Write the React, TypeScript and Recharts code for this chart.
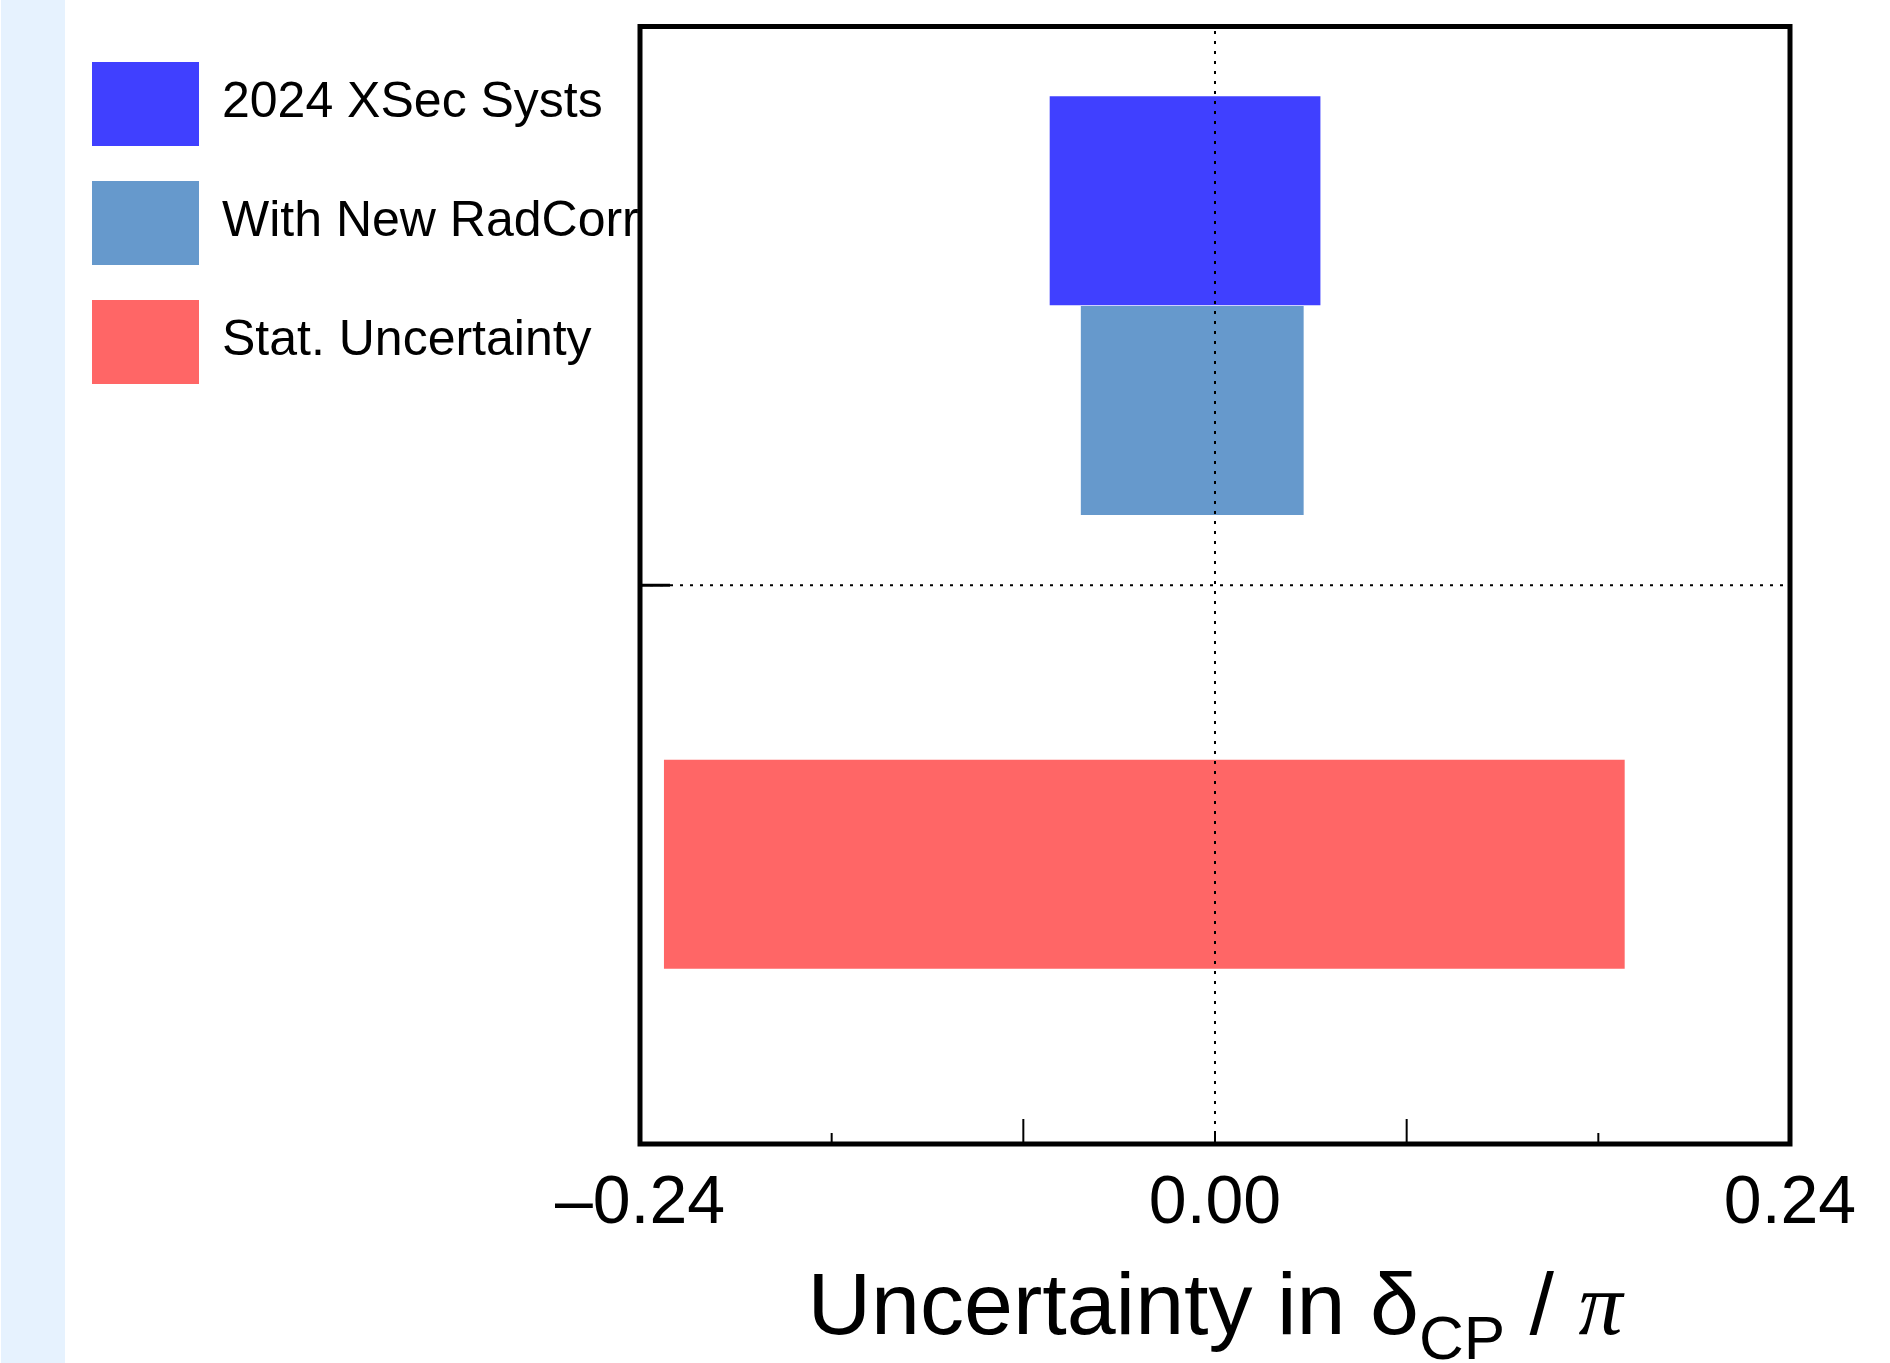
import React from 'react';
import {
  BarChart,
  Bar,
  Cell,
  XAxis,
  YAxis,
  ReferenceLine,
  ReferenceArea,
} from 'recharts';

// series / rows (top to bottom)
const categories = ['2024 XSec Systs', 'With New RadCorr', 'Stat. Uncertainty'];
const lowEdges = [-0.069, -0.056, -0.23];
const highEdges = [0.044, 0.037, 0.171];
const rowPositions = [0.6875, 0.3125, -0.5];
const colors = ['#4040ff', '#6699cc', '#ff6666'];

// axes
const xDomain = [-0.24, 0.24];
const xTicks = [-0.24, -0.16, -0.08, 0, 0.08, 0.16, 0.24];
const xTickLabels = [-0.24, 0, 0.24];
const xLongTicks = [-0.08, 0.08];
const yDomain = [-1, 1];
const yTickMarks = [0];
const barThickness = 0.375;

const W = 1890;
const H = 1363;
const Y_AXIS_W = 2;
const MARGIN = { top: 26.5, right: 100, bottom: 0, left: 640 - Y_AXIS_W };
const X_AXIS_H = 219;
const PLOT_H = H - MARGIN.top - MARGIN.bottom - X_AXIS_H;
const FONT = '"Liberation Sans", Arial, Helvetica, sans-serif';

const data = categories.map((name, i) => ({
  name,
  pos: rowPositions[i],
  range: [lowEdges[i], highEdges[i]],
}));

const fmt = (v: number) => (v < 0 ? '\u2013' : '') + Math.abs(v).toFixed(2);

function XTick(props: any) {
  const { x, y, payload } = props;
  const v = payload.value;
  const isEdge = v === xDomain[0] || v === xDomain[1];
  const len = xLongTicks.includes(v) ? 25 : 11;
  return (
    <g>
      {!isEdge && <line x1={x} x2={x} y1={y} y2={y - len} stroke="#000" strokeWidth={2} />}
      {xTickLabels.includes(v) && (
        <text x={x} y={y + 79} textAnchor="middle" fontFamily={FONT} fontSize={68} fill="#000">
          {fmt(v)}
        </text>
      )}
    </g>
  );
}

// short inward tick on the left frame edge
function YTick(props: any) {
  const { y, payload } = props;
  if (!yTickMarks.includes(Number(payload.value))) return <g />;
  const x0 = MARGIN.left + Y_AXIS_W;
  return <line x1={x0} x2={x0 + 30} y1={y} y2={y} stroke="#000" strokeWidth={3} />;
}

function AxisTitle(props: any) {
  const { viewBox } = props;
  const cx = viewBox.x + viewBox.width / 2;
  const by = viewBox.y + 190;
  return (
    <text x={cx} y={by} textAnchor="middle" fontFamily={FONT} fontSize={88} fill="#000">
      <tspan>Uncertainty in δ</tspan>
      <tspan fontSize={62} dy={25}>CP</tspan>
      <tspan dy={-25}> / </tspan>
      <tspan fontFamily='"Liberation Serif", "Times New Roman", serif' fontStyle="italic">π</tspan>
    </text>
  );
}

function LegendBox() {
  return (
    <svg width={640} height={420} style={{ position: 'absolute', left: 0, top: 0 }}>
      {categories.map((name, i) => {
        const top = 62 + i * 119;
        return (
          <g key={name}>
            <rect x={92} y={top} width={107} height={84} fill={colors[i]} />
            <text x={222} y={top + 55} fontFamily={FONT} fontSize={50} fill="#000">
              {name}
            </text>
          </g>
        );
      })}
    </svg>
  );
}

export default function App() {
  // bars fill their slot exactly; floor so recharts doesn't shrink them
  const barSize = Math.floor((PLOT_H * barThickness) / (yDomain[1] - yDomain[0]));
  return (
    <div style={{ position: 'absolute', left: 0, top: 0, width: W, height: H, background: '#fff', overflow: 'hidden' }}>
      <div style={{ position: 'absolute', left: 1, top: 0, width: 64, height: H, background: '#e6f2fe' }} />
      <div style={{ position: 'absolute', left: 0, top: 0 }}>
        <BarChart width={W} height={H} data={data} layout="vertical" margin={MARGIN} barCategoryGap={0} barGap={0}>
          <XAxis
            type="number"
            domain={xDomain}
            ticks={xTicks}
            interval={0}
            allowDataOverflow
            axisLine={false}
            tickLine={false}
            tickSize={0}
            tickMargin={0}
            height={X_AXIS_H}
            tick={<XTick />}
            label={<AxisTitle />}
          />
          <YAxis
            type="number"
            dataKey="pos"
            domain={yDomain}
            ticks={yTickMarks}
            interval={0}
            allowDataOverflow
            reversed
            axisLine={false}
            tickLine={false}
            tickSize={0}
            tickMargin={0}
            width={Y_AXIS_W}
            tick={<YTick />}
          />
          <Bar dataKey="range" barSize={barSize} isAnimationActive={false}>
            {data.map((d, i) => (
              <Cell key={d.name} fill={colors[i]} />
            ))}
          </Bar>
          <ReferenceLine x={0} stroke="#000" strokeWidth={2} strokeDasharray="3 7" />
          <ReferenceLine y={0} stroke="#000" strokeWidth={2} strokeDasharray="3 7" />
          <ReferenceArea
            x1={xDomain[0]}
            x2={xDomain[1]}
            y1={yDomain[0]}
            y2={yDomain[1]}
            fill="none"
            fillOpacity={0}
            stroke="#000"
            strokeWidth={5}
          />
        </BarChart>
      </div>
      <LegendBox />
    </div>
  );
}
